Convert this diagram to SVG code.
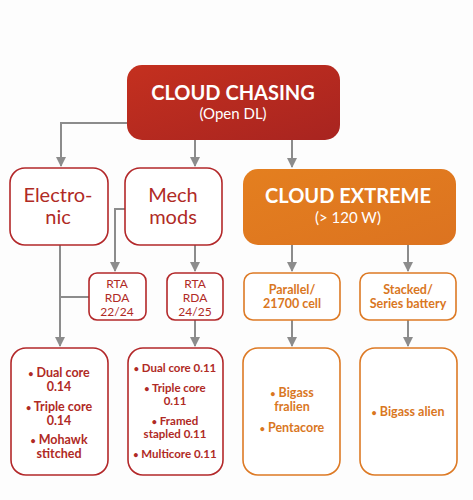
<svg xmlns="http://www.w3.org/2000/svg" width="473" height="500" viewBox="0 0 473 500">
<defs>
<marker id="ah" viewBox="0 0 10 10" refX="9" refY="5" markerWidth="10" markerHeight="10" markerUnits="userSpaceOnUse" orient="auto"><path d="M0,0 L10,5 L0,10 z" fill="#8c8c8c"/></marker>
<linearGradient id="gr" x1="0" y1="0" x2="1" y2="1"><stop offset="0" stop-color="#c4301f"/><stop offset="1" stop-color="#a82420"/></linearGradient>
<linearGradient id="go" x1="0" y1="0" x2="1" y2="1"><stop offset="0" stop-color="#e47f1f"/><stop offset="1" stop-color="#dc7320"/></linearGradient>
</defs>
<style>
text{font-family:Lato,"Open Sans","Liberation Sans",sans-serif;text-anchor:middle}
.rb{fill:#fff;stroke:#b3282a;stroke-width:1.6}
.ob{fill:#fff;stroke:#dd7a25;stroke-width:1.6}
.rt{fill:#b02a25}
.ot{fill:#d9771f}
.wt{fill:#fff}
.c{fill:none;stroke:#8c8c8c;stroke-width:2}
.h{font-weight:700;font-size:20px}
.s{font-size:15px}
.big{font-size:20px}
.r{font-size:12px}
.m{font-size:11.5px;font-weight:700}
.l{font-size:12.5px}
.b{font-size:9px}
</style>
<rect width="473" height="500" fill="#fdfdfd"/>
<g id="connectors">
<path class="c" d="M128,123 H61 V166" marker-end="url(#ah)"/>
<path class="c" d="M195,140 V166" marker-end="url(#ah)"/>
<path class="c" d="M292,140 V167" marker-end="url(#ah)"/>
<path class="c" d="M125,209 H115 V271" marker-end="url(#ah)"/>
<path class="c" d="M195,245 V271" marker-end="url(#ah)"/>
<path class="c" d="M60,245 V346" marker-end="url(#ah)"/>
<path class="c" d="M89,297 H60"/>
<path class="c" d="M195,320 V346" marker-end="url(#ah)"/>
<path class="c" d="M292,245 V271" marker-end="url(#ah)"/>
<path class="c" d="M408,245 V271" marker-end="url(#ah)"/>
<path class="c" d="M292,320 V346" marker-end="url(#ah)"/>
<path class="c" d="M408,320 V346" marker-end="url(#ah)"/>
</g>
<g id="cloud-chasing">
<rect x="127" y="65" width="213" height="75" rx="15" fill="url(#gr)"/>
<text class="wt h" x="233" y="100">CLOUD CHASING</text>
<text class="wt s" x="233" y="119">(Open DL)</text>
</g>
<g id="electronic">
<rect class="rb" x="10" y="168" width="98" height="77" rx="15"/>
<text class="rt big" x="58" y="202">Electro-</text>
<text class="rt big" x="58" y="224">nic</text>
</g>
<g id="mech-mods">
<rect class="rb" x="125" y="168" width="97" height="77" rx="15"/>
<text class="rt big" x="173" y="202">Mech</text>
<text class="rt big" x="173" y="224">mods</text>
</g>
<g id="cloud-extreme">
<rect x="243" y="169" width="213" height="76" rx="15" fill="url(#go)"/>
<text class="wt h" x="348" y="203">CLOUD EXTREME</text>
<text class="wt s" x="348" y="223">(&gt; 120 W)</text>
</g>
<g id="rta-2224">
<rect class="rb" x="89" y="273" width="57" height="47" rx="8"/>
<text class="rt r" x="117" y="288">RTA</text>
<text class="rt r" x="117" y="302">RDA</text>
<text class="rt r" x="117" y="316">22/24</text>
</g>
<g id="rta-2425">
<rect class="rb" x="167" y="273" width="56" height="47" rx="8"/>
<text class="rt r" x="195" y="288">RTA</text>
<text class="rt r" x="195" y="302">RDA</text>
<text class="rt r" x="195" y="316">24/25</text>
</g>
<g id="parallel">
<rect class="ob" x="244" y="273" width="96" height="47" rx="9"/>
<text class="ot m l" x="292" y="294">Parallel/</text>
<text class="ot m l" x="292" y="308">21700 cell</text>
</g>
<g id="stacked">
<rect class="ob" x="360" y="273" width="96" height="47" rx="9"/>
<text class="ot m l" x="408" y="294">Stacked/</text>
<text class="ot m l" x="408" y="308">Series battery</text>
</g>
<g id="electronic-list">
<rect class="rb" x="11" y="348" width="97" height="127" rx="15"/>
<text class="rt m l" x="59" y="377"><tspan class="b">•</tspan> Dual core</text>
<text class="rt m l" x="59" y="391">0.14</text>
<text class="rt m l" x="59" y="411"><tspan class="b">•</tspan> Triple core</text>
<text class="rt m l" x="59" y="425">0.14</text>
<text class="rt m l" x="59" y="444"><tspan class="b">•</tspan> Mohawk</text>
<text class="rt m l" x="59" y="458">stitched</text>
</g>
<g id="mech-list">
<rect class="rb" x="128" y="348" width="95" height="127" rx="15"/>
<text class="rt m" x="175" y="372"><tspan class="b">•</tspan> Dual core 0.11</text>
<text class="rt m" x="175" y="392"><tspan class="b">•</tspan> Triple core</text>
<text class="rt m" x="175" y="405">0.11</text>
<text class="rt m" x="175" y="425"><tspan class="b">•</tspan> Framed</text>
<text class="rt m" x="175" y="438">stapled 0.11</text>
<text class="rt m" x="175" y="458"><tspan class="b">•</tspan> Multicore 0.11</text>
</g>
<g id="parallel-list">
<rect class="ob" x="243" y="348" width="97" height="127" rx="15"/>
<text class="ot m l" x="292" y="397"><tspan class="b">•</tspan> Bigass</text>
<text class="ot m l" x="292" y="411">fralien</text>
<text class="ot m l" x="292" y="432"><tspan class="b">•</tspan> Pentacore</text>
</g>
<g id="stacked-list">
<rect class="ob" x="360" y="348" width="97" height="127" rx="15"/>
<text class="ot m l" x="408" y="416"><tspan class="b">•</tspan> Bigass alien</text>
</g>
</svg>
